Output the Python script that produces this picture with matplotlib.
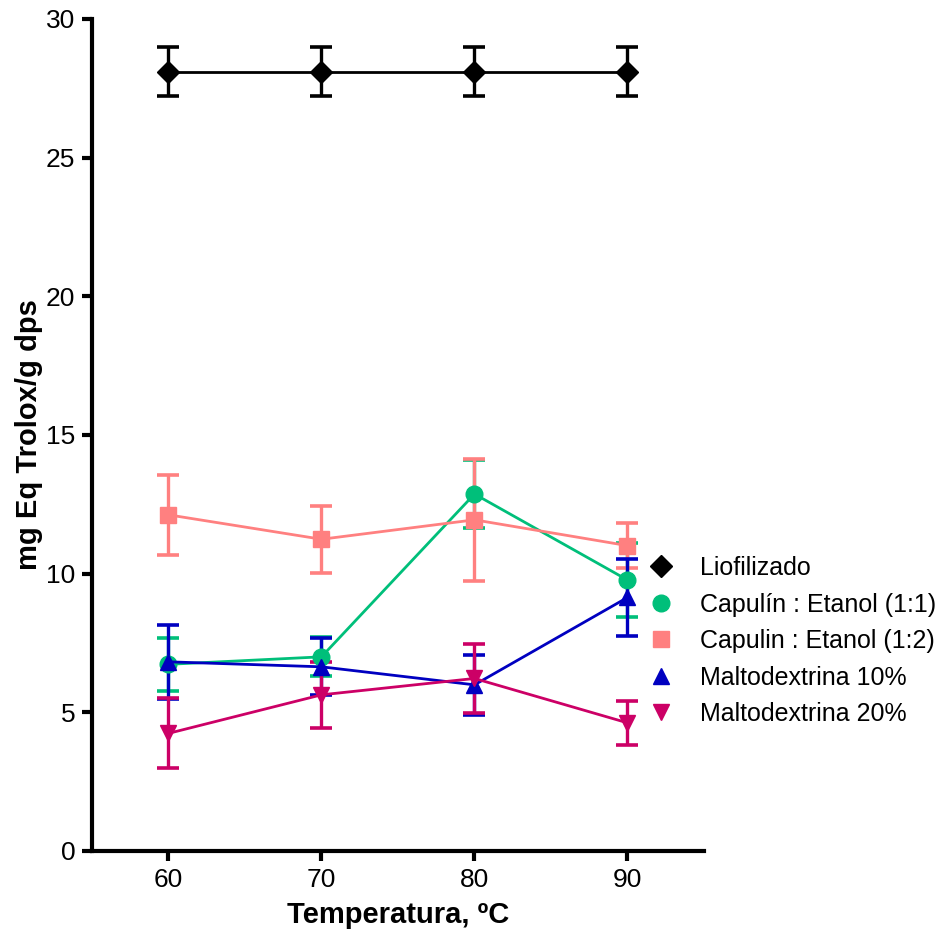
import matplotlib.pyplot as plt
from matplotlib.lines import Line2D

plt.rcParams['font.family'] = ['Liberation Sans', 'DejaVu Sans']

temps = [60, 70, 80, 90]

labels = ["Liofilizado", "Capulín : Etanol (1:1)", "Capulin : Etanol (1:2)",
          "Maltodextrina 10%", "Maltodextrina 20%"]

liofilizado = [28.1, 28.1, 28.1, 28.1]
liofilizado_err = [0.88, 0.88, 0.88, 0.88]

cap_1_1 = [6.73, 7.0, 12.87, 9.77]
cap_1_1_err = [0.95, 0.7, 1.23, 1.35]

cap_1_2 = [12.12, 11.24, 11.94, 11.01]
cap_1_2_err = [1.45, 1.2, 2.2, 0.8]

malto_10 = [6.82, 6.64, 5.99, 9.14]
malto_10_err = [1.33, 1.03, 1.09, 1.39]

malto_20 = [4.24, 5.63, 6.22, 4.62]
malto_20_err = [1.26, 1.2, 1.26, 0.8]

series = [liofilizado, cap_1_1, cap_1_2, malto_10, malto_20]
errors = [liofilizado_err, cap_1_1_err, cap_1_2_err, malto_10_err, malto_20_err]
colors = ["#000000", "#00BF7A", "#FF8080", "#0000C0", "#CC0066"]
markers = ["D", "o", "s", "^", "v"]
msizes = [11, 12, 12, 12, 12]

fig = plt.figure(figsize=(9.47, 9.34), dpi=100)
ax = fig.add_axes([0.0971, 0.0889, 0.6463, 0.8908])

for y, e, c, m, ms in zip(series, errors, colors, markers, msizes):
    ax.errorbar(temps, y, yerr=e, color=c, marker=m, markersize=ms,
                markeredgecolor=c, linewidth=2.0, elinewidth=2.4,
                capsize=8, capthick=2.6)

ax.set_xlim(55, 95)
ax.set_ylim(0, 30)
ax.set_xticks(temps)
ax.set_yticks([0, 5, 10, 15, 20, 25, 30])

for side in ["top", "right"]:
    ax.spines[side].set_visible(False)
for side in ["left", "bottom"]:
    ax.spines[side].set_linewidth(3)
ax.tick_params(axis="both", direction="out", length=7, width=3,
               labelsize=19, pad=5)

ax.set_xlabel("Temperatura, ºC", fontsize=21, fontweight="bold", labelpad=7)
ax.set_ylabel("mg Eq Trolox/g dps", fontsize=21, fontweight="bold", labelpad=2)

handles = [Line2D([], [], color=c, marker=m, linestyle="none", markersize=ms)
           for c, m, ms in zip(colors, markers, msizes)]
fig.legend(handles, labels, loc="upper left", bbox_to_anchor=(0.673, 0.418),
           frameon=False, fontsize=18, handletextpad=1.1, labelspacing=0.5,
           handlelength=0.9, borderpad=0)

fig.savefig("out.png", dpi=100)
